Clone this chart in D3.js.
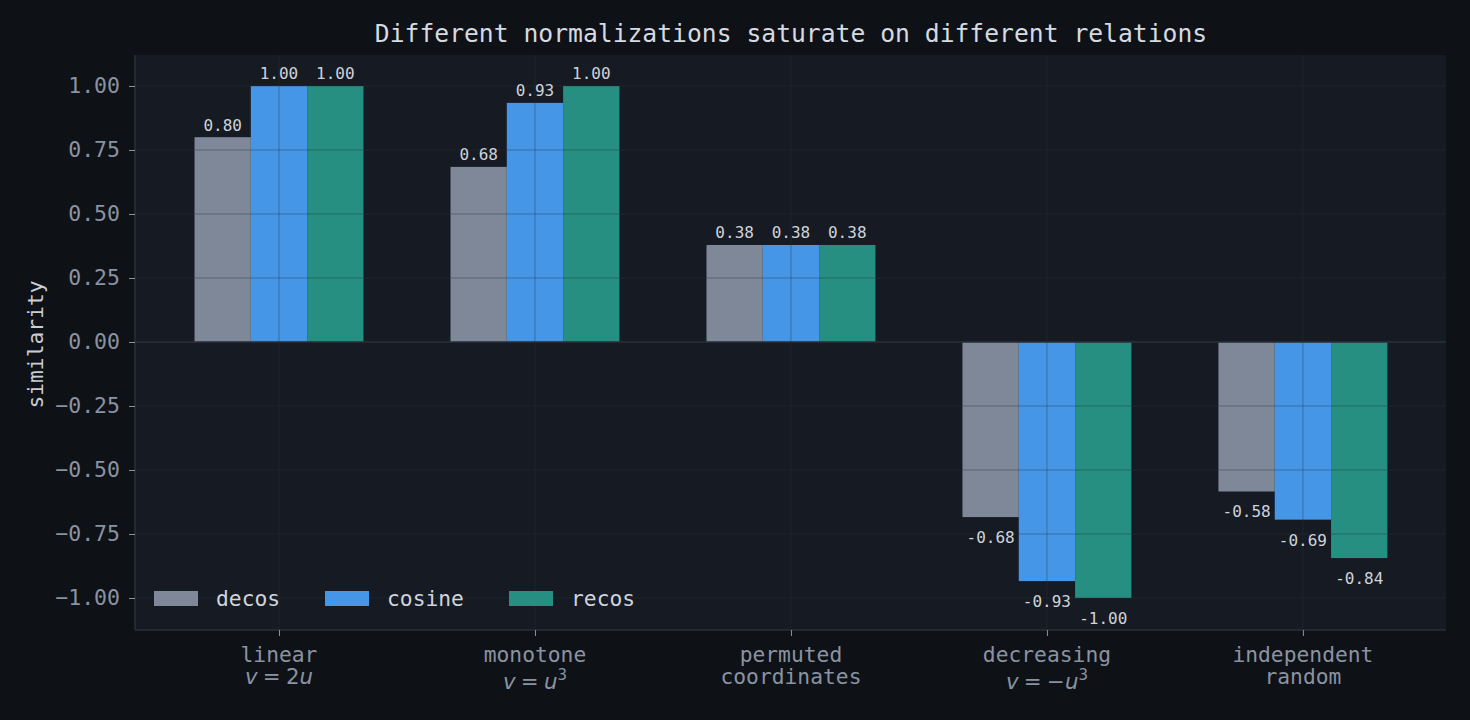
<!DOCTYPE html>
<html>
<head>
<meta charset="utf-8">
<script src="https://cdn.jsdelivr.net/npm/d3@7"></script>
<style>
  html, body { margin: 0; padding: 0; background: #0e1116; }
  svg { display: block; }
</style>
</head>
<body>
<svg id="chart" width="1470" height="720"></svg>
<script>
// datos
const categories = ['linear', 'monotone', 'permuted', 'decreasing', 'independent'];
const catLine1 = ['linear', 'monotone', 'permuted', 'decreasing', 'independent'];
// segunda línea: texto plano o fórmula (v = ...)
const catLine2 = [
  [{t: 'v', i: true}, {t: '\u2005=\u2005'}, {t: '2'}, {t: 'u', i: true}],
  [{t: 'v', i: true}, {t: '\u2005=\u2005'}, {t: 'u', i: true}, {t: '3', sup: true}],
  [{t: 'coordinates', mono: true}],
  [{t: 'v', i: true}, {t: '\u2005=\u2005'}, {t: '\u2212'}, {t: 'u', i: true}, {t: '3', sup: true}],
  [{t: 'random', mono: true}]
];
const seriesNames = ['decos', 'cosine', 'recos'];
const decosVals = [0.80, 0.684, 0.379, -0.684, -0.584];
const cosineVals = [1.00, 0.934, 0.379, -0.934, -0.694];
const recosVals = [1.00, 1.00, 0.379, -1.00, -0.844];
const yTicks = [1.00, 0.75, 0.50, 0.25, 0.00, -0.25, -0.50, -0.75, -1.00];

const seriesVals = [decosVals, cosineVals, recosVals];
const colors = ['#7f8898', '#4596e6', '#268f82'];

const W = 1470, H = 720;
const M = { left: 135, right: 1446, top: 55, bottom: 630 };
const MONO = "'DejaVu Sans Mono', monospace";
const SANS = "'DejaVu Sans', sans-serif";

const svg = d3.select('#chart');

svg.append('rect').attr('width', W).attr('height', H).attr('fill', '#0e1116');

const x = d3.scaleLinear().domain([-0.5625, 4.559]).range([M.left, M.right]);
const y = d3.scaleLinear().domain([-1.125, 1.121]).range([M.bottom, M.top]);
const barW = 0.22;
const offsets = [-0.22, 0, 0.22];

// fondo de ejes
svg.append('rect')
  .attr('x', M.left).attr('y', M.top)
  .attr('width', M.right - M.left).attr('height', M.bottom - M.top)
  .attr('fill', '#161a23');

// barras
const gBars = svg.append('g');
seriesVals.forEach((vals, si) => {
  gBars.selectAll(null)
    .data(vals)
    .enter().append('rect')
    .attr('x', (d, i) => x(i + offsets[si] - barW / 2))
    .attr('width', x(barW) - x(0))
    .attr('y', d => y(Math.max(0, d)))
    .attr('height', d => Math.abs(y(d) - y(0)))
    .attr('fill', colors[si]);
});

// rejilla encima de las barras
const gGrid = svg.append('g').attr('stroke', '#2d333b').attr('stroke-opacity', 0.4).attr('stroke-width', 1);
gGrid.selectAll('line.h')
  .data(yTicks)
  .enter().append('line')
  .attr('x1', M.left).attr('x2', M.right)
  .attr('y1', d => y(d)).attr('y2', d => y(d));
gGrid.selectAll('line.v')
  .data(categories)
  .enter().append('line')
  .attr('x1', (d, i) => x(i)).attr('x2', (d, i) => x(i))
  .attr('y1', M.top).attr('y2', M.bottom);

// linea del cero
svg.append('line')
  .attr('x1', M.left).attr('x2', M.right)
  .attr('y1', y(0)).attr('y2', y(0))
  .attr('stroke', '#2a303a').attr('stroke-width', 1.5);

// etiquetas de barras
seriesVals.forEach((vals, si) => {
  svg.append('g').selectAll('text')
    .data(vals)
    .enter().append('text')
    .attr('x', (d, i) => x(i + offsets[si]))
    .attr('y', d => d >= 0 ? y(d) - 6.5 : y(d) + 26)
    .attr('text-anchor', 'middle')
    .attr('font-family', MONO)
    .attr('font-size', 16)
    .attr('fill', '#cfd3da')
    .text(d => d.toFixed(2));
});

// ejes
const axisColor = '#2a2f38';
const tickColor = '#8a93a2';

const yAxis = svg.append('g')
  .attr('transform', `translate(${M.left},0)`)
  .call(d3.axisLeft(y).tickValues(yTicks).tickSize(6).tickPadding(9)
    .tickFormat(d => d3.format('.2f')(d).replace('-', '\u2212')));
yAxis.select('.domain').attr('stroke', axisColor).attr('stroke-width', 1.5)
  .attr('d', `M0,${M.top}V${M.bottom}`);
yAxis.selectAll('.tick line').attr('stroke', tickColor);
yAxis.selectAll('.tick text')
  .attr('fill', tickColor).attr('font-family', MONO).attr('font-size', 21.5);

const xAxis = svg.append('g')
  .attr('transform', `translate(0,${M.bottom})`)
  .call(d3.axisBottom(x).tickValues(d3.range(categories.length)).tickSize(6).tickFormat(''));
xAxis.select('.domain').attr('stroke', axisColor).attr('stroke-width', 1.5)
  .attr('d', `M${M.left},0H${M.right}`);
xAxis.selectAll('.tick line').attr('stroke', tickColor);

// etiquetas del eje x (dos lineas)
categories.forEach((c, i) => {
  svg.append('text')
    .attr('x', x(i)).attr('y', 661.5)
    .attr('text-anchor', 'middle')
    .attr('font-family', MONO).attr('font-size', 21.3)
    .attr('fill', tickColor)
    .text(catLine1[i]);

  const parts = catLine2[i];
  const hasSup = parts.some(p => p.sup);
  const isMono = parts.length === 1 && parts[0].mono;
  const t2 = svg.append('text')
    .attr('x', x(i)).attr('y', hasSup ? 689 : 684)
    .attr('text-anchor', 'middle')
    .attr('font-family', isMono ? MONO : SANS)
    .attr('font-size', 21.3)
    .attr('fill', tickColor);
  parts.forEach(p => {
    const ts = t2.append('tspan').text(p.t);
    if (p.i) ts.attr('font-style', 'italic');
    if (p.sup) ts.attr('font-size', 15).attr('dy', -9);
  });
});

// titulo y etiqueta y
svg.append('text')
  .attr('x', (M.left + M.right) / 2 + 0.5).attr('y', 42)
  .attr('text-anchor', 'middle')
  .attr('font-family', MONO).attr('font-size', 24.7)
  .attr('fill', '#d6dae1')
  .text('Different normalizations saturate on different relations');

svg.append('text')
  .attr('transform', `translate(43,${(M.top + M.bottom) / 2 + 2}) rotate(-90)`)
  .attr('text-anchor', 'middle')
  .attr('font-family', MONO).attr('font-size', 21.3)
  .attr('fill', '#c9cdd5')
  .text('similarity');

// leyenda
const legX = [154, 325, 509];
const gLeg = svg.append('g');
seriesNames.forEach((s, si) => {
  gLeg.append('rect')
    .attr('x', legX[si]).attr('y', 591)
    .attr('width', 44).attr('height', 15)
    .attr('fill', colors[si]);
  gLeg.append('text')
    .attr('x', legX[si] + 62).attr('y', 606)
    .attr('font-family', MONO).attr('font-size', 21.3)
    .attr('fill', '#d0d4dc')
    .text(s);
});
</script>
</body>
</html>
